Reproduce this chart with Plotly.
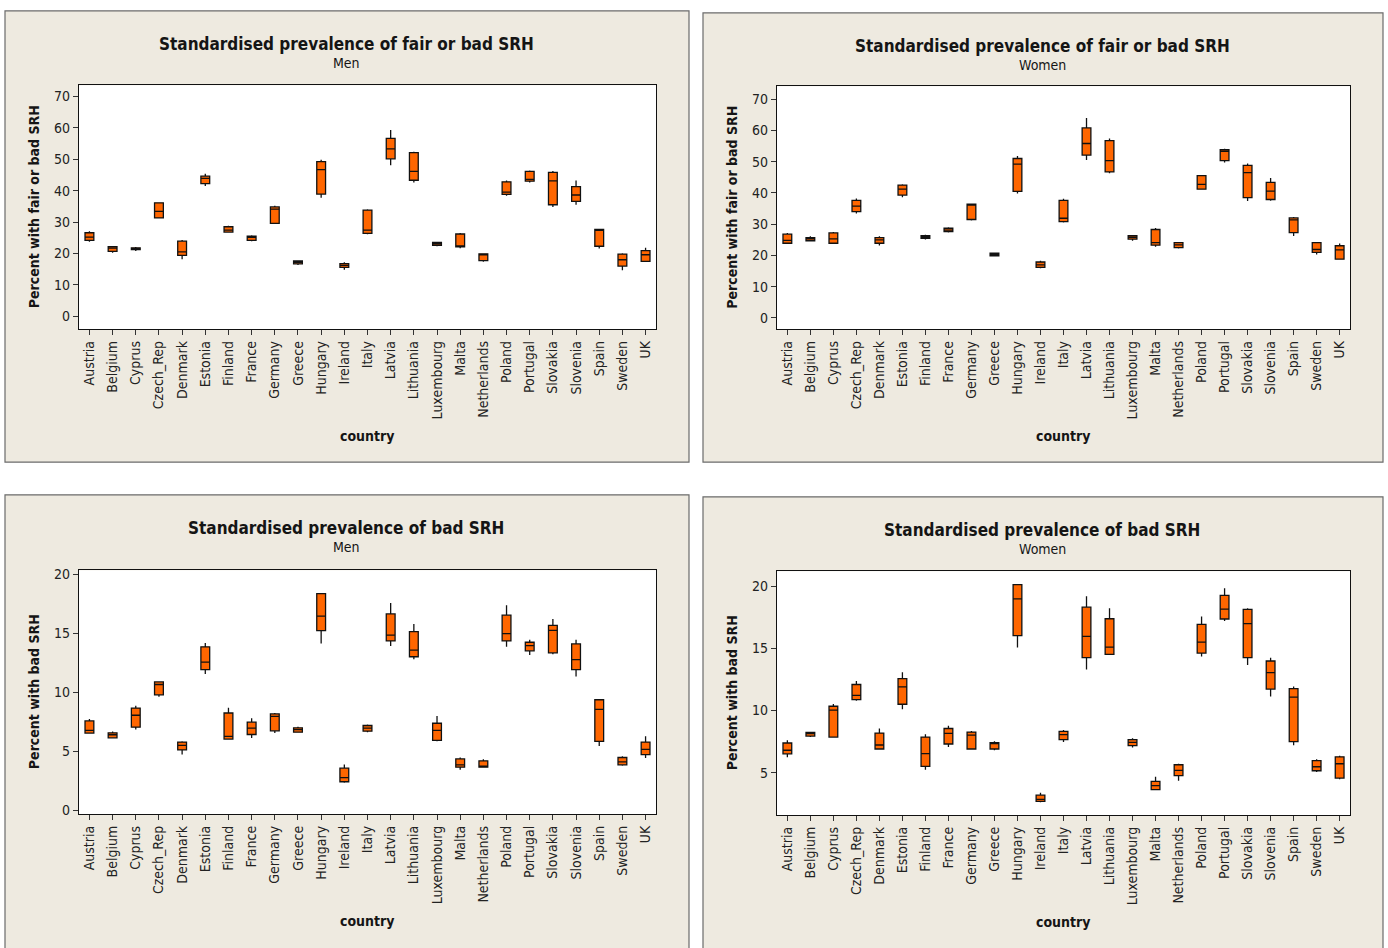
import plotly.graph_objects as go

# Countries on the x axis (same order in every panel)
countries = ["Austria", "Belgium", "Cyprus", "Czech_Rep", "Denmark", "Estonia",
             "Finland", "France", "Germany", "Greece", "Hungary", "Ireland",
             "Italy", "Latvia", "Lithuania", "Luxembourg", "Malta", "Netherlands",
             "Poland", "Portugal", "Slovakia", "Slovenia", "Spain", "Sweden", "UK"]

# ---- Fair or bad SRH, men ----
fb_men_min = [23.7, 20.2, 20.8, 31.1, 18.2, 41.5, 26.6, 23.9, 29.4, 16.3, 37.7, 14.8,
              26.1, 48.1, 42.6, 22.3, 21.7, 17.4, 38.4, 42.6, 34.8, 35.5, 21.6, 14.7, 17.3]
fb_men_q1 = [24.2, 20.7, 21.2, 31.3, 19.4, 42.2, 26.8, 24.2, 29.6, 16.7, 38.9, 15.6,
             26.4, 50.1, 43.3, 22.6, 22.1, 17.7, 38.8, 43.0, 35.5, 36.6, 22.3, 16.0, 17.5]
fb_men_med = [25.2, 21.7, 21.5, 33.4, 20.5, 43.9, 27.4, 25.1, 34.1, 17.2, 46.7, 16.2,
              27.4, 53.3, 46.1, 23.1, 22.4, 19.6, 39.5, 43.6, 43.1, 38.6, 27.4, 18.0, 19.6]
fb_men_q3 = [26.6, 22.2, 21.8, 36.1, 23.9, 44.6, 28.5, 25.5, 34.8, 17.6, 49.2, 16.8,
             33.8, 56.6, 52.1, 23.5, 26.2, 19.9, 42.8, 46.1, 45.8, 41.3, 27.7, 19.8, 20.9]
fb_men_max = [27.1, 22.4, 22.1, 36.3, 24.3, 45.4, 28.8, 25.8, 35.2, 17.8, 49.8, 17.2,
              34.1, 59.3, 52.4, 23.7, 26.5, 20.1, 43.2, 46.4, 46.2, 43.2, 27.9, 20.1, 21.8]

# ---- Fair or bad SRH, women ----
fb_wom_min = [23.7, 24.5, 23.7, 33.4, 23.2, 38.6, 25.1, 27.3, 31.2, 19.7, 39.8, 15.9,
              30.5, 50.5, 46.3, 24.7, 22.8, 22.2, 41.0, 49.7, 37.4, 37.5, 26.2, 20.3, 18.7]
fb_wom_q1 = [23.9, 24.7, 23.9, 34.0, 23.9, 39.3, 25.5, 27.6, 31.5, 19.9, 40.5, 16.2,
             30.8, 52.1, 46.7, 25.2, 23.3, 22.5, 41.2, 50.3, 38.5, 37.9, 27.3, 21.0, 18.8]
fb_wom_med = [24.8, 25.3, 25.3, 35.8, 25.0, 41.2, 26.0, 28.1, 36.1, 20.3, 49.2, 17.0,
              31.9, 55.8, 50.3, 25.8, 24.1, 23.4, 42.7, 53.3, 46.5, 40.6, 31.4, 21.9, 21.8]
fb_wom_q3 = [26.8, 25.7, 27.2, 37.6, 25.7, 42.5, 26.3, 28.7, 36.4, 20.7, 51.0, 17.9,
             37.6, 60.8, 56.7, 26.3, 28.3, 24.1, 45.5, 53.8, 48.8, 43.4, 32.0, 24.1, 23.1]
fb_wom_max = [27.2, 26.1, 27.5, 38.2, 26.1, 42.8, 26.6, 29.0, 36.6, 20.9, 51.8, 18.3,
              38.1, 64.0, 57.4, 26.5, 28.8, 24.3, 45.7, 54.1, 49.4, 44.8, 32.3, 24.3, 23.8]

# ---- Bad SRH, men ----
b_men_min = [6.52, 6.10, 6.85, 9.62, 4.73, 11.55, 6.01, 6.13, 6.55, 6.57, 14.13, 2.35,
             6.63, 13.93, 12.81, 5.85, 3.44, 3.61, 13.85, 13.15, 13.23, 11.33, 5.45, 3.78, 4.45]
b_men_q1 = [6.55, 6.15, 7.05, 9.79, 5.12, 11.92, 6.04, 6.43, 6.74, 6.63, 15.22, 2.43,
            6.71, 14.35, 13.01, 5.93, 3.66, 3.66, 14.35, 13.51, 13.34, 11.92, 5.85, 3.86, 4.73]
b_men_med = [6.77, 6.41, 8.06, 10.66, 5.51, 12.56, 6.27, 6.97, 7.97, 6.85, 16.45, 2.77,
             6.97, 14.85, 13.57, 6.77, 3.86, 3.72, 14.97, 13.96, 15.24, 12.76, 8.56, 4.11, 5.17]
b_men_q3 = [7.58, 6.57, 8.67, 10.88, 5.79, 13.85, 8.25, 7.47, 8.17, 6.99, 18.35, 3.58,
            7.19, 16.64, 15.13, 7.38, 4.36, 4.20, 16.53, 14.24, 15.66, 14.10, 9.37, 4.48, 5.79]
b_men_max = [7.75, 6.69, 8.87, 10.94, 5.85, 14.18, 8.70, 7.80, 8.25, 7.08, 18.38, 3.89,
             7.27, 17.57, 15.78, 8.00, 4.48, 4.34, 17.37, 14.46, 16.20, 14.46, 9.43, 4.59, 6.29]

# ---- Bad SRH, women ----
b_wom_min = [6.25, 7.87, 7.87, 10.80, 6.91, 10.11, 5.24, 7.07, 6.91, 6.81, 15.08, 2.63,
             7.47, 13.30, 14.47, 7.02, 3.64, 4.36, 14.36, 17.21, 13.67, 11.14, 7.21, 5.05, 4.47]
b_wom_q1 = [6.52, 7.95, 7.87, 10.88, 6.91, 10.51, 5.51, 7.31, 6.91, 6.91, 16.04, 2.69,
            7.66, 14.26, 14.52, 7.18, 3.64, 4.76, 14.63, 17.37, 14.26, 11.73, 7.50, 5.16, 4.57]
b_wom_med = [6.81, 8.14, 10.03, 11.22, 7.23, 11.91, 6.54, 8.16, 8.03, 7.34, 18.99, 2.85,
             8.06, 15.98, 15.11, 7.45, 3.96, 5.19, 15.51, 18.16, 17.00, 13.06, 11.09, 5.48, 5.72]
b_wom_q3 = [7.39, 8.24, 10.35, 12.10, 8.19, 12.58, 7.87, 8.56, 8.27, 7.42, 20.13, 3.19,
            8.32, 18.32, 17.39, 7.66, 4.31, 5.64, 16.94, 19.28, 18.14, 13.99, 11.76, 5.98, 6.28]
b_wom_max = [7.61, 8.30, 10.53, 12.39, 8.56, 13.09, 8.09, 8.78, 8.35, 7.53, 20.19, 3.38,
             8.43, 19.20, 18.24, 7.77, 4.68, 5.72, 17.58, 19.84, 18.24, 14.26, 11.94, 6.09, 6.36]

W, H = 1388, 948
FONT = "DejaVu Sans Condensed, DejaVu Sans, sans-serif"
BEIGE = "#EEEAE0"
BOX_FILL = "#FF6600"


def px(x):
    return x / W


def py(y):
    return 1 - y / H


# panel frame (left, top, right, bottom) and plot area (left, top, right, bottom)
panels = [
    dict(frame=(5, 7, 689, 462), plot=(79, 82, 656, 328), yr=[-4.1, 73.5],
         ticks=[0, 10, 20, 30, 40, 50, 60, 70],
         title="Standardised prevalence of fair or bad SRH", sub="Men",
         ytitle="Percent with fair or bad SRH",
         data=(fb_men_min, fb_men_q1, fb_men_med, fb_men_q3, fb_men_max)),
    dict(frame=(703, 9, 1383, 462), plot=(777, 83, 1350, 328), yr=[-3.6, 74.1],
         ticks=[0, 10, 20, 30, 40, 50, 60, 70],
         title="Standardised prevalence of fair or bad SRH", sub="Women",
         ytitle="Percent with fair or bad SRH",
         data=(fb_wom_min, fb_wom_q1, fb_wom_med, fb_wom_q3, fb_wom_max)),
    dict(frame=(5, 495, 689, 960), plot=(79, 571, 656, 817), yr=[-0.31, 20.34],
         ticks=[0, 5, 10, 15, 20],
         title="Standardised prevalence of bad SRH", sub="Men",
         ytitle="Percent with bad SRH",
         data=(b_men_min, b_men_q1, b_men_med, b_men_q3, b_men_max)),
    dict(frame=(703, 497, 1383, 960), plot=(777, 572, 1350, 818), yr=[1.59, 21.22],
         ticks=[5, 10, 15, 20],
         title="Standardised prevalence of bad SRH", sub="Women",
         ytitle="Percent with bad SRH",
         data=(b_wom_min, b_wom_q1, b_wom_med, b_wom_q3, b_wom_max)),
]

fig = go.Figure()
shapes = []
annotations = []
layout_axes = {}


def label(text, x, y, size, angle=0):
    return dict(text=text, x=px(x), y=py(y), xref="paper", yref="paper",
                xanchor="center", yanchor="middle", showarrow=False,
                textangle=angle, font=dict(family=FONT, size=size, color="#151515"))


for i, p in enumerate(panels, start=1):
    fl, ft, fr, fb = p["frame"]
    l, t, r, b = p["plot"]
    shapes.append(dict(type="rect", xref="paper", yref="paper", layer="below",
                       x0=px(fl), x1=px(fr), y0=py(fb), y1=py(ft),
                       fillcolor=BEIGE, line=dict(color="#6b6b6b", width=1.2)))
    shapes.append(dict(type="rect", xref="paper", yref="paper", layer="below",
                       x0=px(l), x1=px(r), y0=py(b), y1=py(t),
                       fillcolor="white", line=dict(width=0)))

    lo, q1, med, q3, hi = p["data"]
    suffix = "" if i == 1 else str(i)
    fig.add_trace(go.Box(
        x=countries, q1=q1, median=med, q3=q3, lowerfence=lo, upperfence=hi,
        xaxis="x" + suffix, yaxis="y" + suffix,
        fillcolor=BOX_FILL, line=dict(color="#111111", width=1.3),
        width=0.38, boxpoints=False, whiskerwidth=0, showlegend=False,
        hoverinfo="skip"))

    layout_axes["xaxis" + suffix] = dict(
        domain=[px(l), px(r)], anchor="y" + suffix, type="category",
        range=[-0.45, len(countries) - 0.55], tickangle=-90,
        showline=True, linecolor="#111111", linewidth=1.3, mirror=True,
        ticks="outside", ticklen=5, tickcolor="#333333", showgrid=False,
        tickfont=dict(family=FONT, size=14, color="#222222"))
    layout_axes["yaxis" + suffix] = dict(
        domain=[py(b), py(t)], anchor="x" + suffix, range=p["yr"],
        tickvals=p["ticks"], showline=True, linecolor="#111111",
        linewidth=1.3, mirror=True, ticks="outside", ticklen=5,
        tickcolor="#333333", showgrid=False, zeroline=False,
        tickfont=dict(family=FONT, size=14, color="#222222"))

    cx = (fl + fr) / 2 - 1
    annotations.append(label("<b>" + p["title"] + "</b>", cx, ft + 33, 17))
    annotations.append(label(p["sub"], cx, ft + 53, 14))
    annotations.append(label("<b>country</b>", (l + r) / 2, b + 108, 14))
    annotations.append(label("<b>" + p["ytitle"] + "</b>", l - 45, (t + b) / 2, 14, -90))

fig.update_layout(
    width=W, height=H, margin=dict(l=0, r=0, t=0, b=0),
    paper_bgcolor="white", plot_bgcolor="rgba(0,0,0,0)",
    shapes=shapes, annotations=annotations, showlegend=False,
    **layout_axes)

fig.write_html("out.html")
